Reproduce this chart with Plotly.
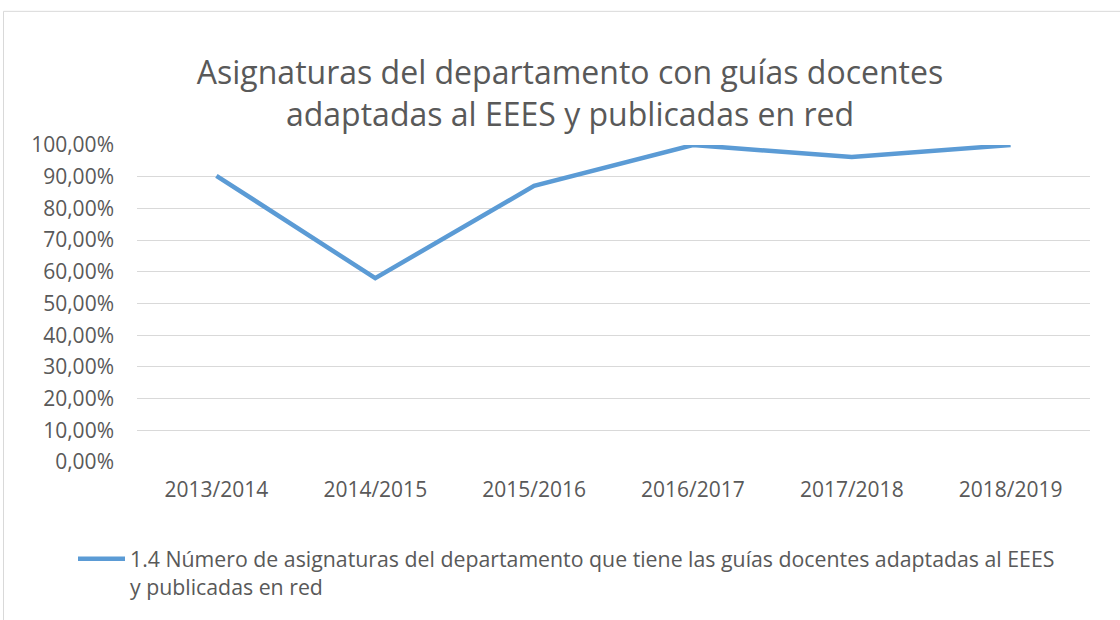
import plotly.graph_objects as go

categories = ["2013/2014", "2014/2015", "2015/2016", "2016/2017", "2017/2018", "2018/2019"]
values = [0.903, 0.580, 0.871, 1.0, 0.962, 1.0]
series_name = ("1.4 Número de asignaturas del departamento que tiene las guías docentes adaptadas al EEES"
               "<br>y publicadas en red")
title_text = "Asignaturas del departamento con guías docentes<br>adaptadas al EEES y publicadas en red"

W, H = 1120, 620
L, R, T, B = 137, 30, 145, 156
pw, ph = W - L - R, H - T - B

def px_x(x):
    return (x - L) / pw

def px_y(y):
    return (H - B - y) / ph

FONT = "Open Sans, Lato, sans-serif"

fig = go.Figure()
fig.add_trace(go.Scatter(
    x=categories, y=values, mode="lines", name=series_name,
    line=dict(color="#5b9bd5", width=4.5),
))

fig.update_layout(
    width=W, height=H,
    margin=dict(l=L, r=R, t=T, b=B),
    paper_bgcolor="white", plot_bgcolor="white",
    separators=",.",
    font=dict(family=FONT, color="#595959", size=21),
    title=dict(text=title_text, x=570 / W, xanchor="center", y=1 - 84 / H, yanchor="middle",
               font=dict(size=32, color="#595959", family=FONT)),
    showlegend=True,
    legend=dict(orientation="h", x=px_x(73), y=px_y(541), xanchor="left", yanchor="top",
                valign="top", itemwidth=47,
                font=dict(size=21.3, color="#595959", family=FONT), bgcolor="rgba(0,0,0,0)"),
    xaxis=dict(type="category", range=[-0.5, 5.5], showgrid=False, showline=False,
               zeroline=False, ticks="", ticklabelstandoff=13,
               tickfont=dict(size=21, color="#595959")),
    yaxis=dict(range=[0, 1.0001], dtick=0.1, tickformat=".2%", showgrid=True,
               gridcolor="#d9d9d9", gridwidth=1, zeroline=False, showline=False,
               ticks="", ticklabelstandoff=22, tickfont=dict(size=21, color="#595959")),
    shapes=[dict(type="rect", xref="paper", yref="paper",
                 x0=px_x(3.5), x1=px_x(1130), y0=px_y(630), y1=px_y(10.5),
                 line=dict(color="#d9d9d9", width=1), fillcolor="rgba(0,0,0,0)", layer="below")],
)

fig.write_html("out.html", config={"displayModeBar": False},
               post_script="document.body.style.margin='0';")
